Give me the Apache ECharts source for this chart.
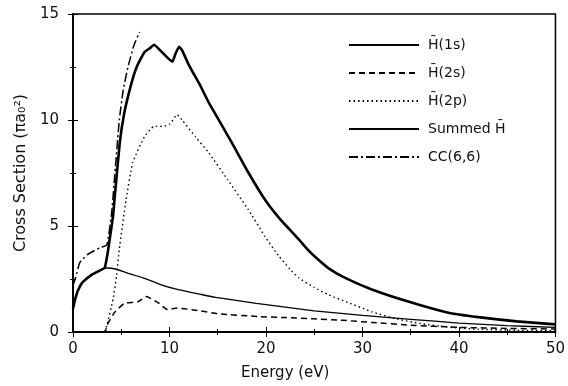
<!DOCTYPE html>
<html><head><meta charset="utf-8">
<script src="https://cdn.jsdelivr.net/npm/echarts@6/dist/echarts.min.js"></script>
<style>html,body{margin:0;padding:0;background:#fff}#c{width:568px;height:386px}</style>
</head><body><div id="c"></div>
<script>
// Data: [energy (eV), cross section (pi a0^2)]
const h1s = [[0,1.1],[0.2,1.5],[0.5,1.95],[1,2.35],[2,2.72],[3,2.95],[3.5,3.02],[4.5,2.96],[5.5,2.8],[7.2,2.57],[9,2.25],[10.7,2.02],[13,1.8],[14.8,1.63],[19,1.35],[25,1.0],[30,0.78],[35,0.6],[40,0.42],[45,0.3],[50,0.22]];
const h2s = [[0,0],[3.3,0],[3.5,0.3],[4.3,0.92],[5.35,1.36],[6.7,1.42],[7.6,1.67],[8.8,1.39],[9.8,1.06],[10.8,1.13],[13.1,1.0],[15,0.86],[19.2,0.73],[22,0.68],[25,0.62],[28,0.55],[31,0.45],[35,0.32],[40,0.22],[45,0.17],[50,0.14]];
const h2p = [[0,0],[3.2,0],[3.5,0.3],[4.15,1.55],[4.5,2.6],[4.8,3.9],[5.5,6.24],[6.2,8.0],[7.4,9.2],[8.4,9.7],[9.3,9.7],[10.0,9.8],[10.8,10.25],[11.3,10.0],[12.7,9.2],[14,8.5],[16,7.2],[18.2,5.75],[19.9,4.5],[21.3,3.6],[22.5,2.95],[23.4,2.55],[25,2.1],[26.5,1.75],[28.5,1.39],[31,0.95],[33.6,0.61],[36,0.4],[38.8,0.23],[42,0.13],[46,0.08],[50,0.06]];
const summed = [[0,1.1],[0.2,1.5],[0.5,1.95],[1,2.35],[2,2.72],[3,2.95],[3.3,3.04],[3.6,3.74],[3.8,4.37],[4.15,5.46],[4.3,6.24],[4.84,8.9],[5.3,10.3],[6.04,11.7],[6.6,12.5],[7.4,13.2],[8.0,13.4],[8.4,13.55],[9.0,13.3],[10.3,12.75],[10.6,13.1],[11.0,13.45],[11.3,13.3],[12,12.6],[13.1,11.7],[14.1,10.8],[16.5,8.9],[18.2,7.5],[19.9,6.24],[21.6,5.25],[23.4,4.37],[24.3,3.9],[25.2,3.5],[26.5,3.0],[28,2.6],[30.9,2.02],[35,1.4],[38.8,0.92],[42,0.7],[46,0.5],[50,0.36]];
const cc66 = [[0,2.2],[0.3,2.6],[0.7,3.27],[1.5,3.65],[2.8,3.98],[3.5,4.1],[4.0,5.6],[4.4,7.8],[4.8,10],[5.2,11.4],[5.7,12.5],[6.3,13.5],[6.9,14.15]];
const names = ['H\u0304(1s)','H\u0304(2s)','H\u0304(2p)','Summed H\u0304','CC(6,6)'];

const font = 'DejaVu Sans';
const chart = echarts.init(document.getElementById('c'));
const tickCommon = {inside:true, length:5, lineStyle:{color:'#000',width:1}};
const minorCommon = {show:true, splitNumber:2, length:3, lineStyle:{color:'#000',width:1}};
function line(name, data, width, type){
  return {name, type:'line', data, symbol:'none', smooth:0.15, xAxisIndex:0, yAxisIndex:0,
    lineStyle:{color:'#000', width, type}, itemStyle:{color:'#000'}};
}
chart.setOption({
  animation:false,
  backgroundColor:'#fff',
  grid:{left:73, right:9, top:14, bottom:53, show:true, borderColor:'#000', borderWidth:1.5, backgroundColor:'transparent'},
  legend:{orient:'vertical', left:348, top:38, padding:0, itemWidth:70, itemHeight:14, itemGap:14,
    data:names, itemStyle:{opacity:0},
    textStyle:{fontFamily:font, fontSize:14, color:'#111', padding:[0,0,0,4]}},
  xAxis:[
    {type:'value', min:0, max:50, interval:10, position:'bottom',
     axisLine:{show:true, lineStyle:{color:'#000', width:1.5}},
     axisTick:tickCommon, minorTick:minorCommon, splitLine:{show:false},
     axisLabel:{fontFamily:font, fontSize:15, color:'#111', margin:10},
     name:'Energy (eV)', nameLocation:'middle', nameGap:34,
     nameTextStyle:{fontFamily:font, fontSize:15, color:'#111', padding:[0,58,0,0]}},
    {type:'value', min:0, max:50, interval:10, position:'top',
     axisLine:{show:true, lineStyle:{color:'#000', width:1.5}},
     axisTick:tickCommon, minorTick:minorCommon, splitLine:{show:false}, axisLabel:{show:false}}
  ],
  yAxis:[
    {type:'value', min:0, max:15, interval:5, position:'left',
     axisLine:{show:true, lineStyle:{color:'#000', width:1.5}},
     axisTick:tickCommon, minorTick:minorCommon, splitLine:{show:false},
     axisLabel:{fontFamily:font, fontSize:15, color:'#111', margin:14},
     name:'Cross Section (\u03C0a\u2080\u00B2)', nameLocation:'middle', nameGap:43,
     nameTextStyle:{fontFamily:font, fontSize:16, color:'#111'}},
    {type:'value', min:0, max:15, interval:5, position:'right',
     axisLine:{show:true, lineStyle:{color:'#000', width:1.5}},
     axisTick:tickCommon, minorTick:minorCommon, splitLine:{show:false}, axisLabel:{show:false}}
  ],
  series:[
    line(names[0], h1s, 1.3, 'solid'),
    line(names[1], h2s, 1.5, [6,4]),
    line(names[2], h2p, 1.4, [1.5,3]),
    line(names[3], summed, 2.6, 'solid'),
    line(names[4], cc66, 1.5, [9,3,2,3])
  ]
});
</script></body></html>
